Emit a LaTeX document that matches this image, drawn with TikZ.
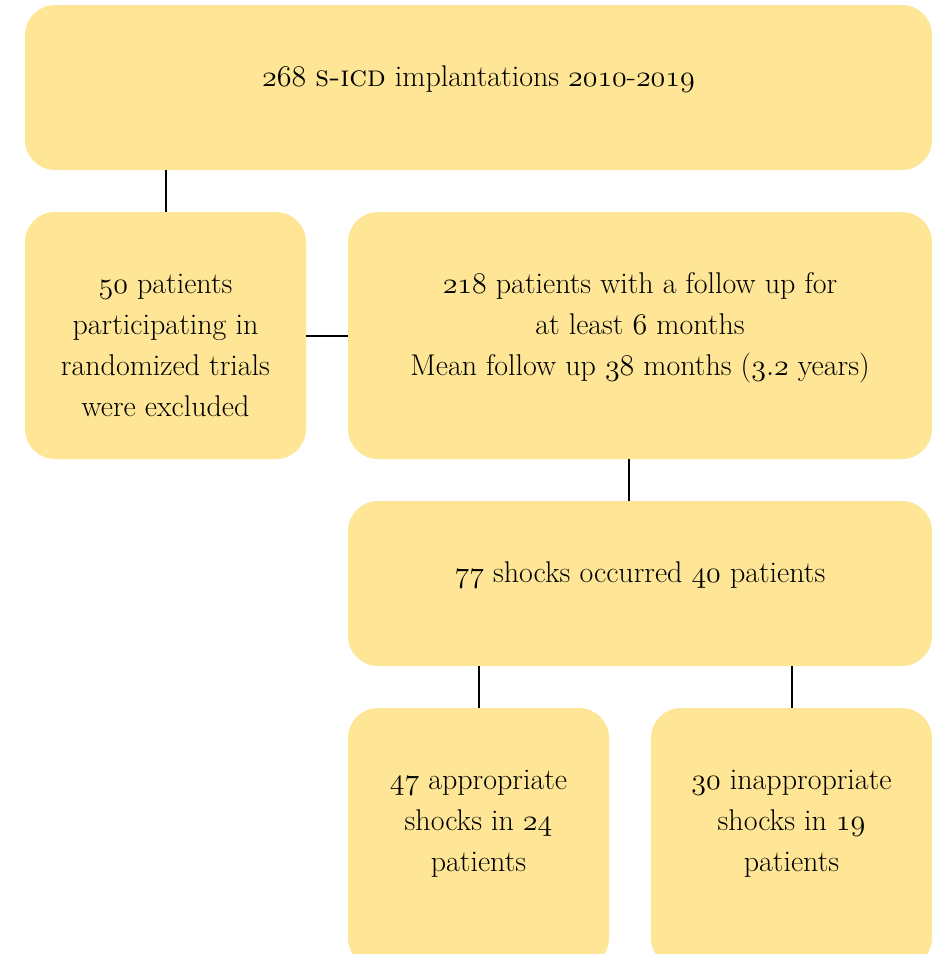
\RequirePackage{fix-cm}
\documentclass[tikz,border=0pt]{standalone}
\definecolor{boxfill}{RGB}{254,230,150}
\newcommand{\on}[1]{$\mathnormal{#1}$}
\tikzset{
  box/.style={fill=boxfill, draw=none, rounded corners=30pt, inner sep=0pt},
  txt/.style={anchor=north, inner sep=0pt, align=center, font=\fontsize{30}{41}\selectfont},
  conn/.style={draw=black, line width=2pt}
}
\begin{document}
\begin{tikzpicture}[x=1pt,y=-1pt]
\useasboundingbox (0,0) rectangle (934,954);
\node[box, minimum width=907pt, minimum height=165pt] (top) at (478.5,87.5) {};
\node[box, minimum width=281pt, minimum height=247pt] (left) at (165.5,335.5) {};
\node[box, minimum width=584pt, minimum height=247pt] (right) at (640,335.5) {};
\node[box, minimum width=584pt, minimum height=165pt] (mid) at (640,583.5) {};
\node[box, minimum width=261pt, minimum height=260pt] (bl) at (478.5,838) {};
\node[box, minimum width=281pt, minimum height=260pt] (br) at (791.5,838) {};

\node[txt] (ttop) at ([yshift=-53pt]top.north) {\strut\on{268} \textsc{s-icd} implantations \on{2010}-\on{2019}};
\node[txt] (tleft) at ([yshift=-53pt]left.north) {\strut\on{50} patients\\participating in\\randomized trials\\were excluded};
\node[txt] (tright) at ([yshift=-53pt]right.north) {\strut\on{218} patients with a follow up for\\at least \on{6} months\\Mean follow up \on{38} months (\on{3.2} years)};
\node[txt] (tmid) at ([yshift=-53pt]mid.north) {\strut\on{77} shocks occurred \on{40} patients};
\node[txt] (tbl) at ([yshift=-53pt]bl.north) {\strut\on{47} appropriate\\shocks in \on{24}\\patients};
\node[txt] (tbr) at ([yshift=-53pt]br.north) {\strut\on{30} inappropriate\\shocks in \on{19}\\patients};

\draw[conn] (left.north) -- (left.north |- top.south);
\draw[conn] (left.east) -- (right.west);
\draw[conn] ([xshift=-11pt]right.south) -- ([xshift=-11pt]right.south |- mid.north);
\draw[conn] (bl.north) -- (bl.north |- mid.south);
\draw[conn] (br.north) -- (br.north |- mid.south);
\end{tikzpicture}
\end{document}
